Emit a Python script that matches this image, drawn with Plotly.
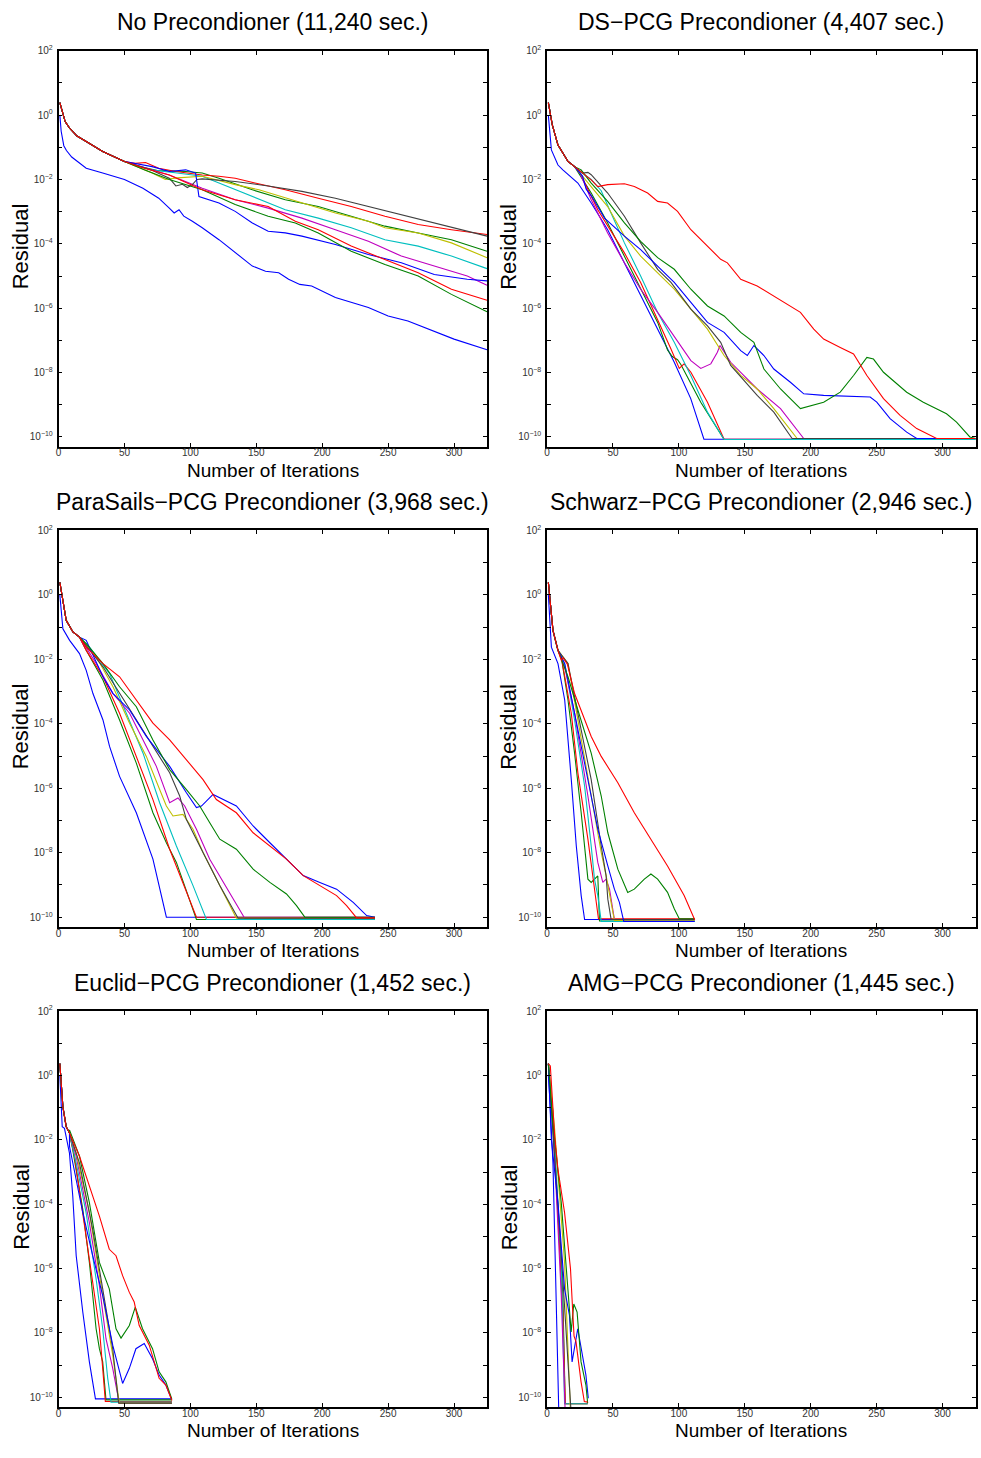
import plotly.graph_objects as go

# ---------------- text ----------------
TITLES = [
    "No Precondioner (11,240 sec.)",
    "DS\u2212PCG Precondioner (4,407 sec.)",
    "ParaSails\u2212PCG Precondioner (3,968 sec.)",
    "Schwarz\u2212PCG Precondioner (2,946 sec.)",
    "Euclid\u2212PCG Precondioner (1,452 sec.)",
    "AMG\u2212PCG Precondioner (1,445 sec.)",
]
X_LABEL = "Number of Iterations"
Y_LABEL = "Residual"
X_TICKS = [0, 50, 100, 150, 200, 250, 300]
Y_MAJOR = [-10, -8, -6, -4, -2, 0, 2]
Y_MINOR = [-9, -7, -5, -3, -1, 1]

# series colours (MATLAB cycle b g r c m y k b g r)
COLORS = ["#0000FF", "#008000", "#FF0000", "#00BFBF", "#BF00BF",
          "#BFBF00", "#404040", "#0000FF", "#008000", "#FF0000"]

# ---------------- data: (iteration, log10 residual) ----------------
# Panel 1: no preconditioner
NP_PRE = [(1, 0.39), (3, 0.05), (5, -0.2), (8.3, -0.4), (14, -0.65), (21, -0.82), (33.5, -1.13), (50, -1.44)]
NP_B1 = [(1, 0.0), (2, -0.5), (4, -0.95), (6, -1.1), (10, -1.3), (21, -1.65), (33.5, -1.8), (50, -2.0), (64, -2.27),
         (76, -2.58), (84, -2.89), (87.7, -3.04), (91.4, -2.94), (95, -3.14), (101.5, -3.3), (109, -3.5),
         (121.7, -3.87), (134, -4.28), (147, -4.69), (157, -4.85), (167, -4.9), (174.5, -5.1), (183, -5.26),
         (192, -5.31), (210, -5.67), (235, -5.98), (250, -6.24), (265, -6.4), (283, -6.7), (300, -6.96), (325, -7.29)]
NP_G1 = [(60, -1.58), (75, -1.72), (96.5, -1.75), (109, -1.8), (121.7, -1.96), (147, -2.32), (172, -2.63),
         (197, -2.84), (222, -3.14), (247.6, -3.45), (272.8, -3.66), (298, -3.87), (325, -4.23)]
NP_R1 = [(58, -1.5), (66, -1.47), (76, -1.65), (89, -1.75), (109, -1.86), (121.7, -1.9), (134, -1.96), (149, -2.11),
         (172, -2.32), (197, -2.58), (222, -2.84), (247.6, -3.14), (272.8, -3.4), (298, -3.56), (325, -3.71)]
NP_C = [(70, -1.7), (90, -1.8), (109, -1.9), (121.7, -2.11), (147, -2.53), (172, -2.94), (197, -3.2), (222, -3.5),
        (247.6, -3.87), (272.8, -4.07), (298, -4.38), (325, -4.77)]
NP_M = [(58.7, -1.55), (84, -1.86), (109, -2.27), (134, -2.63), (159, -2.89), (184.6, -3.2), (210, -3.56),
        (235, -3.92), (260, -4.38), (285, -4.69), (310, -5.0), (325, -5.29)]
NP_Y = [(71, -1.8), (81, -2.0), (90, -1.95), (109, -1.9), (134, -2.16), (152, -2.32), (184.6, -2.73), (210, -3.04),
        (235, -3.3), (247.6, -3.5), (272.8, -3.66), (298, -3.97), (325, -4.43)]
NP_K = [(70, -1.7), (84, -1.96), (89, -2.2), (94, -2.15), (97.7, -2.25), (101.5, -2.16), (105, -2.0), (109, -1.98),
        (134, -2.06), (159, -2.2), (184.6, -2.37), (210, -2.58), (235, -2.84), (260, -3.09), (285, -3.35), (325, -3.76)]
NP_B2 = [(71, -1.6), (84, -1.75), (96.5, -1.7), (104, -1.8), (106.5, -2.53), (121.7, -2.73), (134, -2.99),
         (147, -3.35), (159, -3.61), (172, -3.66), (184.6, -3.76), (210, -4.02), (222, -4.18), (235, -4.33),
         (260, -4.59), (285, -4.95), (310, -5.1), (325, -5.15)]
NP_G2 = [(65, -1.7), (84, -2.0), (109, -2.32), (134, -2.78), (159, -3.14), (179.6, -3.35), (197, -3.66),
         (222, -4.23), (247.6, -4.64), (272.8, -5.0), (298, -5.57), (325, -6.11)]
NP_R2 = [(65, -1.65), (84, -1.86), (109, -2.32), (134, -2.63), (159, -2.84), (179.6, -3.3), (197, -3.56),
         (222, -4.07), (247.6, -4.48), (272.8, -4.9), (298, -5.41), (325, -5.75)]

# Panel 2: DS-PCG
DS_PRE = [(1, 0.39), (4, -0.3), (8.3, -0.93), (15.9, -1.44), (20.9, -1.6)]
DS_B1 = [(1, 0.0), (3.3, -1.08), (8.3, -1.55), (12, -1.7), (23.4, -2.11), (33.5, -2.73), (46, -3.56), (58.7, -4.59),
         (71, -5.62), (84, -6.65), (96.5, -7.68), (109, -8.81), (119, -10.07), (325, -10.07)]
DS_G1 = [(33.5, -2.42), (46, -3.35), (58.7, -4.4), (71, -5.4), (84, -6.45), (91.4, -7.3), (95, -7.5), (99, -7.6),
         (101.5, -7.75), (116.6, -8.92), (134.3, -10.08), (325, -10.08)]
DS_R1 = [(25, -1.8), (38.5, -2.94), (58.7, -4.28), (71, -5.2), (83.9, -6.34), (94, -7.27), (100.3, -7.87),
         (104, -7.73), (109.1, -7.99), (121.7, -8.92), (134.3, -10.07), (325, -10.07)]
DS_C = [(25, -1.75), (33.5, -2.0), (41.1, -2.35), (48.6, -3.05), (58.7, -3.97), (71, -5.0), (83.9, -6.13),
        (96.5, -7.06), (109.1, -8.1), (121.7, -9.23), (134.3, -10.08), (325, -10.08)]
DS_M = [(25, -1.8), (33.5, -2.63), (46, -3.66), (58.7, -4.59), (71, -5.41), (83.9, -6.13), (96.5, -6.86),
        (109.1, -7.63), (116.6, -7.87), (124.2, -7.73), (129.2, -7.37), (131.2, -7.16), (139.3, -7.68),
        (159.4, -8.51), (177.1, -9.12), (194.7, -10.05), (325, -10.05)]
DS_Y = [(25, -1.8), (33.5, -2.22), (46, -2.84), (58.7, -3.76), (71, -4.38), (83.9, -4.9), (96.5, -5.41),
        (109.1, -6.03), (121.7, -6.65), (134.3, -7.47), (146.9, -8.09), (159.4, -8.51), (172, -9.12),
        (189.7, -10.05), (325, -10.05)]
DS_K = [(27, -1.8), (31, -1.78), (33.5, -1.85), (46, -2.42), (58.7, -3.14), (71, -3.97), (83.9, -4.79), (94, -5.2),
        (109.1, -6.03), (121.7, -6.55), (131.7, -7.06), (139.3, -7.78), (159.4, -8.71), (172, -9.23),
        (185.9, -10.05), (325, -10.05)]
DS_B2 = [(27, -1.9), (29.7, -2.3), (33.5, -2.5), (43.6, -3.2), (58.7, -3.76), (71, -4.18), (83.9, -4.69),
         (96.5, -5.2), (109.1, -5.82), (121.7, -6.44), (134.3, -6.75), (146.9, -7.32), (151.9, -7.47),
         (156.9, -7.16), (164.5, -7.47), (172, -7.89), (184.6, -8.3), (194.7, -8.66), (209.8, -8.71),
         (222.4, -8.73), (245.1, -8.76), (250.1, -8.92), (260.2, -9.43), (272.8, -9.85), (280.4, -10.05),
         (325, -10.05)]
DS_G2 = [(25.9, -1.7), (33.5, -2.11), (46, -2.68), (58.7, -3.35), (71, -3.92), (83.9, -4.43), (96.5, -4.79),
         (109.1, -5.41), (121.7, -5.93), (134.3, -6.24), (146.9, -6.75), (156.9, -7.06), (164.5, -7.89),
         (177.1, -8.51), (192.2, -9.12), (209.8, -8.92), (222.4, -8.61), (232.5, -8.09), (242.6, -7.53),
         (247.6, -7.58), (255.2, -7.99), (272.8, -8.61), (285.4, -8.92), (303, -9.28), (310.6, -9.54),
         (320.7, -10.0), (325, -10.05)]
DS_R2 = [(33.5, -2.01), (38.5, -2.22), (46, -2.16), (58.7, -2.13), (66.2, -2.22), (76.3, -2.42), (83.9, -2.68),
         (91.4, -2.73), (99, -2.99), (109.1, -3.56), (121.7, -4.07), (131.7, -4.48), (136.8, -4.59), (146.9, -5.1),
         (159.4, -5.31), (172, -5.62), (184.6, -5.93), (192.2, -6.13), (202.3, -6.65), (209.8, -6.96),
         (222.4, -7.22), (232.5, -7.42), (242.6, -8.09), (255.2, -8.81), (267.8, -9.33), (280.4, -9.74),
         (295.5, -10.05), (325, -10.05)]

# Panel 3: ParaSails-PCG
PS_PRE = [(1, 0.39), (4, -0.3), (5.8, -0.79), (10.9, -1.15), (15.9, -1.31)]
PS_B1 = [(1, 0.0), (3.3, -1.05), (8.4, -1.41), (15.9, -1.82), (21, -2.34), (26.1, -3.06), (33.7, -3.88),
         (38.7, -4.7), (46.3, -5.63), (59, -6.76), (71.6, -8.2), (81.8, -10.0), (240, -10.0)]
PS_G1 = [(21, -1.72), (33.7, -2.64), (46.3, -3.88), (59, -5.22), (71.6, -6.76), (81.8, -7.69), (89.4, -8.3),
         (104.6, -10.07), (240, -10.07)]
PS_R1 = [(21, -1.72), (33.7, -2.54), (46.3, -3.67), (59, -5.01), (71.6, -6.35), (84.3, -7.89), (94.4, -8.92),
         (104.6, -10.0), (240, -10.0)]
PS_C = [(23.5, -1.62), (38.7, -2.44), (51.4, -3.67), (64.1, -4.91), (76.7, -6.45), (89.4, -7.79), (102, -9.02),
        (112.2, -10.07), (240, -10.07)]
PS_M = [(28.6, -2.13), (41.3, -3.06), (53.9, -3.67), (64.1, -4.5), (74.2, -5.32), (84.3, -6.45), (90.6, -6.3),
        (95.7, -6.55), (104.6, -7.27), (114.7, -8.2), (129.9, -9.23), (141.3, -10.04), (240, -10.04)]
PS_Y = [(28.6, -1.92), (41.3, -2.85), (53.9, -3.98), (66.6, -5.01), (76.7, -6.04), (81.8, -6.55), (86.8, -6.86),
        (94.4, -6.81), (102, -7.27), (109.6, -7.99), (122.3, -9.02), (134.9, -10.03), (240, -10.03)]
PS_K = [(33.7, -2.23), (46.3, -3.06), (59, -3.88), (71.6, -4.7), (84.3, -5.52), (91.9, -6.24), (97, -6.97),
        (109.6, -7.99), (122.3, -9.02), (136.2, -10.03), (240, -10.03)]
PS_B2 = [(21, -1.41), (33.7, -2.54), (41.3, -3.06), (53.9, -3.57), (66.6, -4.39), (84.3, -5.32), (97, -6.14),
         (104.6, -6.6), (108.4, -6.55), (117.2, -6.19), (134.9, -6.55), (147.6, -7.17), (160.3, -7.69),
         (172.9, -8.2), (185.6, -8.71), (198.2, -8.92), (210.9, -9.13), (223.5, -9.54), (233.7, -9.95),
         (240, -10.0)]
PS_G2 = [(21, -1.51), (33.7, -2.13), (46.3, -2.85), (59, -3.47), (71.6, -4.5), (84.3, -5.42), (97, -6.04),
         (107.1, -6.55), (114.7, -7.07), (122.3, -7.58), (134.9, -7.89), (147.6, -8.51), (160.3, -8.92),
         (172.9, -9.28), (180.5, -9.64), (186.8, -10.0), (240, -10.0)]
PS_R2 = [(21, -1.62), (33.7, -2.13), (46.3, -2.54), (59, -3.26), (71.6, -3.98), (84.3, -4.5), (97, -5.11),
         (109.6, -5.73), (119.7, -6.35), (134.9, -6.76), (147.6, -7.38), (160.3, -7.79), (172.9, -8.2),
         (185.6, -8.71), (198.2, -9.02), (210.9, -9.33), (218.5, -9.64), (226.1, -10.02), (240, -10.02)]

# Panel 4: Schwarz-PCG
SW_PRE = [(1, 0.39), (4.5, -1.1), (8.3, -1.72)]
SW_B1 = [(1, 0.0), (3.3, -1.62), (8.3, -2.13), (13.4, -3.26), (18.4, -5.73), (22.2, -7.79), (25.9, -9.33),
         (28.5, -10.07), (112, -10.07)]
SW_G1 = [(10.8, -1.92), (15.9, -3.26), (20.9, -4.91), (25.9, -6.76), (31, -8.82), (33.5, -8.92), (38.5, -8.72),
         (39.8, -10.12), (112, -10.12)]
SW_R1 = [(10.8, -1.92), (18.4, -3.67), (23.4, -5.52), (31, -7.58), (36, -9.13), (39, -10.05), (112, -10.05)]
SW_C = [(13.4, -2.13), (20.9, -3.88), (28.5, -5.93), (33.5, -7.79), (36, -8.82), (38.5, -9.33), (41.1, -10.13),
        (112, -10.13)]
SW_M = [(13.4, -2.23), (20.9, -3.67), (31, -6.24), (38.5, -8.3), (42.3, -8.92), (44.8, -8.82), (47.4, -9.13),
        (51.1, -10.07), (112, -10.07)]
SW_Y = [(15.9, -2.13), (23.4, -3.88), (33.5, -6.24), (41.1, -7.99), (44.8, -8.71), (48.6, -9.54), (51.1, -10.1),
        (112, -10.1)]
SW_K = [(15.9, -2.13), (25.9, -4.19), (33.5, -5.73), (41.1, -7.79), (44.8, -8.71), (46.1, -9.44), (48.6, -10.07),
        (112, -10.07)]
SW_B2 = [(13.4, -2.13), (20.9, -3.67), (31, -5.73), (38.5, -7.27), (46.1, -8.41), (51.1, -9.13), (54.9, -9.54),
         (58.2, -10.13), (112, -10.13)]
SW_G2 = [(15.9, -2.54), (23.4, -3.57), (33.5, -4.91), (41.1, -6.24), (46.1, -7.38), (53.7, -8.51), (61.2, -9.23),
         (66.2, -9.13), (73.8, -8.82), (78.8, -8.66), (83.9, -8.82), (91.4, -9.23), (96.5, -9.74), (100.3, -10.05),
         (112, -10.05)]
SW_R2 = [(10.8, -2.03), (12.1, -1.95), (15.4, -2.15), (20.9, -3.06), (33.5, -4.39), (41.1, -5.01), (53.7, -5.83),
         (66.2, -6.76), (78.8, -7.58), (91.4, -8.41), (104, -9.33), (111.6, -10.0), (112, -10.08)]

# Panel 5: Euclid-PCG
EU_PRE = [(1, 0.37), (3.3, -0.97), (5.8, -1.59), (8.3, -1.79)]
EU_B1 = [(1, 0.0), (2.8, -1.59), (4.5, -1.64), (8.3, -2.41), (10.8, -3.75), (13.4, -5.6), (18.4, -7.35),
         (23.4, -8.9), (28, -10.05), (86, -10.05)]
EU_G1 = [(10.8, -2.31), (18.4, -4.16), (23.4, -5.81), (28.5, -7.87), (31, -8.49), (33.5, -8.9), (36, -10.08),
         (86, -10.08)]
EU_R1 = [(12.1, -2.51), (18.4, -4.26), (25.9, -6.32), (31, -7.87), (33.5, -9.1), (35.5, -10.13), (86, -10.13)]
EU_C = [(13.4, -2.72), (20.9, -4.26), (28.5, -6.32), (33.5, -7.87), (37.3, -9.41), (39.8, -10.15), (86, -10.15)]
EU_M = [(13.4, -2.51), (23.4, -4.57), (31, -6.53), (36, -8.18), (41.1, -9.1), (46.1, -10.18), (86, -10.18)]
EU_Y = [(13.4, -2.41), (23.4, -4.26), (33.5, -6.84), (41.1, -8.69), (46.1, -10.18), (86, -10.18)]
EU_K = [(15.9, -2.72), (25.9, -4.78), (33.5, -6.63), (41.1, -8.49), (45.6, -10.18), (86, -10.18)]
EU_B2 = [(8.3, -2.2), (18.4, -4.26), (25.9, -5.6), (33.5, -6.84), (41.1, -8.38), (44.8, -9.0), (48.6, -9.57),
         (53.7, -9.1), (58.7, -8.49), (65, -8.33), (71.3, -8.8), (76.3, -9.31), (81.4, -9.62), (85.9, -10.08)]
EU_G2 = [(8.3, -1.69), (15.9, -2.51), (23.4, -3.95), (31, -5.81), (38.5, -6.63), (43.6, -7.87), (47.4, -8.16),
         (53.7, -7.77), (58.2, -7.2), (63.7, -7.87), (71.3, -8.49), (76.3, -9.21), (81.4, -9.52), (85.9, -10.05)]
EU_R2 = [(8.3, -1.79), (15.9, -2.51), (23.4, -3.44), (31, -4.37), (38.5, -5.4), (43.6, -5.6), (48.6, -6.22),
         (53.7, -6.74), (57.4, -7.04), (61.2, -7.77), (68.8, -8.38), (76.3, -9.41), (81.4, -9.62), (85.1, -10.03),
         (86, -10.1)]

# Panel 6: AMG-PCG
AM_B1 = [(1, 0.0), (2, -0.66), (4.5, -2.72), (7, -6.84), (9, -10.6)]
AM_G1 = [(1, 0.37), (4.5, -1.69), (12, -6.84), (13.8, -10.2), (30.8, -10.2)]
AM_R1 = [(1, 0.37), (4.5, -1.18), (12, -7.35), (13.8, -10.2), (30.8, -10.2)]
AM_C = [(1, 0.37), (4.5, -1.18), (10.8, -5.81), (13.3, -10.2), (30.8, -10.2)]
AM_M = [(1, 0.37), (4.5, -1.49), (10.8, -6.84), (13.8, -10.5)]
AM_Y = [(1, 0.37), (5.8, -1.69), (13.3, -5.81), (17.8, -10.5)]
AM_K = [(1, 0.37), (4.5, -1.69), (12, -6.32), (18.3, -10.5)]
AM_B2 = [(1, 0.37), (3.3, -2.0), (8.3, -3.95), (13.3, -6.63), (17, -7.45), (19, -8.9), (23.3, -7.87), (27, -8.8),
         (29.5, -9.31), (31.3, -10.03)]
AM_G2 = [(1, 0.37), (4.5, -1.49), (10.8, -3.95), (15.8, -6.53), (18.3, -7.97), (20.3, -7.1), (22.8, -7.35),
         (25.8, -8.9), (29.5, -9.62), (30.8, -10.18)]
AM_R2 = [(1, 0.37), (2.5, 0.3), (5.8, -1.89), (8.3, -2.92), (13.3, -4.26), (17.8, -6.01), (19.5, -7.35),
         (20.5, -8.1), (22, -8.28), (25.8, -9.52), (28.3, -10.13), (30.8, -10.15)]

PANELS = [
    [NP_B1, NP_PRE + NP_G1, NP_PRE + NP_R1, NP_PRE + NP_C, NP_PRE + NP_M, NP_PRE + NP_Y, NP_PRE + NP_K,
     NP_PRE + NP_B2, NP_PRE + NP_G2, NP_PRE + NP_R2],
    [DS_B1, DS_PRE + DS_G1, DS_PRE + DS_R1, DS_PRE + DS_C, DS_PRE + DS_M, DS_PRE + DS_Y, DS_PRE + DS_K,
     DS_PRE + DS_B2, DS_PRE + DS_G2, DS_PRE + DS_R2],
    [PS_B1, PS_PRE + PS_G1, PS_PRE + PS_R1, PS_PRE + PS_C, PS_PRE + PS_M, PS_PRE + PS_Y, PS_PRE + PS_K,
     PS_PRE + PS_B2, PS_PRE + PS_G2, PS_PRE + PS_R2],
    [SW_B1, SW_PRE + SW_G1, SW_PRE + SW_R1, SW_PRE + SW_C, SW_PRE + SW_M, SW_PRE + SW_Y, SW_PRE + SW_K,
     SW_PRE + SW_B2, SW_PRE + SW_G2, SW_PRE + SW_R2],
    [EU_B1, EU_PRE + EU_G1, EU_PRE + EU_R1, EU_PRE + EU_C, EU_PRE + EU_M, EU_PRE + EU_Y, EU_PRE + EU_K,
     EU_PRE + EU_B2, EU_PRE + EU_G2, EU_PRE + EU_R2],
    [AM_B1, AM_G1, AM_R1, AM_C, AM_M, AM_Y, AM_K, AM_B2, AM_G2, AM_R2],
]

# ---------------- layout geometry (pixels) ----------------
W, H = 981, 1458
COL_X = [(55.7, 485.5), (545.7, 975.5)]
ROW_Y = [(44, 441.7), (526, 924.3), (1009, 1406.7)]
FONT = "Liberation Sans, Arial, Helvetica, sans-serif"

fig = go.Figure()
annotations = []
for p, series in enumerate(PANELS):
    r, c = divmod(p, 2)
    ax = "" if p == 0 else str(p + 1)
    for s, pts in enumerate(series):
        fig.add_trace(go.Scatter(
            x=[q[0] for q in pts], y=[10 ** q[1] for q in pts],
            mode="lines", line=dict(color=COLORS[s], width=1.1),
            xaxis="x" + ax, yaxis="y" + ax, showlegend=False, hoverinfo="skip"))
    x0, x1 = COL_X[c]
    y0, y1 = ROW_Y[r]
    dom_x = [x0 / W, x1 / W]
    dom_y = [1 - y1 / H, 1 - y0 / H]
    common = dict(showline=True, linecolor="black", linewidth=1.5, mirror="ticks",
                  ticks="inside", ticklen=4, tickwidth=1, tickcolor="black",
                  showgrid=False, zeroline=False,
                  tickfont=dict(family=FONT, size=10, color="#333"))
    fig.layout["xaxis" + ax] = dict(domain=dom_x, range=[0, 325], anchor="y" + ax,
                                    tickmode="array", tickvals=X_TICKS,
                                    ticktext=[str(v) for v in X_TICKS], ticklabelstandoff=-4, **common)
    fig.layout["yaxis" + ax] = dict(domain=dom_y, type="log", range=[-10.3, 2], anchor="x" + ax,
                                    tickmode="array", tickvals=[10.0 ** k for k in Y_MAJOR],
                                    ticktext=["10<sup>" + str(k).replace("-", "\u2212") + "</sup>" for k in Y_MAJOR],
                                    ticklabelstandoff=2,
                                    minor=dict(tickmode="array", tickvals=[10.0 ** k for k in Y_MINOR],
                                               ticks="inside", ticklen=4, tickwidth=1, tickcolor="black",
                                               showgrid=False),
                                    **common)
    cx = (x0 + x1) / 2 / W
    annotations.append(dict(text=TITLES[p], x=cx, y=1 - (y0 - 28.5) / H, xref="paper", yref="paper",
                            xanchor="center", yanchor="middle", showarrow=False,
                            font=dict(family=FONT, size=23, color="black")))
    annotations.append(dict(text=X_LABEL, x=cx, y=1 - (y1 + 24) / H, xref="paper", yref="paper",
                            xanchor="center", yanchor="middle", showarrow=False,
                            font=dict(family=FONT, size=19, color="black")))
    annotations.append(dict(text=Y_LABEL, x=(x0 - 38) / W, y=1 - ((y0 + y1) / 2 - 2) / H, xref="paper",
                            yref="paper", xanchor="center", yanchor="middle", showarrow=False, textangle=-90,
                            font=dict(family=FONT, size=22, color="black")))

fig.update_layout(width=W, height=H, margin=dict(l=0, r=0, t=0, b=0),
                  paper_bgcolor="white", plot_bgcolor="white",
                  annotations=annotations, showlegend=False)
fig.write_html("out.html", config={"displayModeBar": False},
               post_script="document.body.style.margin='0';document.body.style.padding='0';")
